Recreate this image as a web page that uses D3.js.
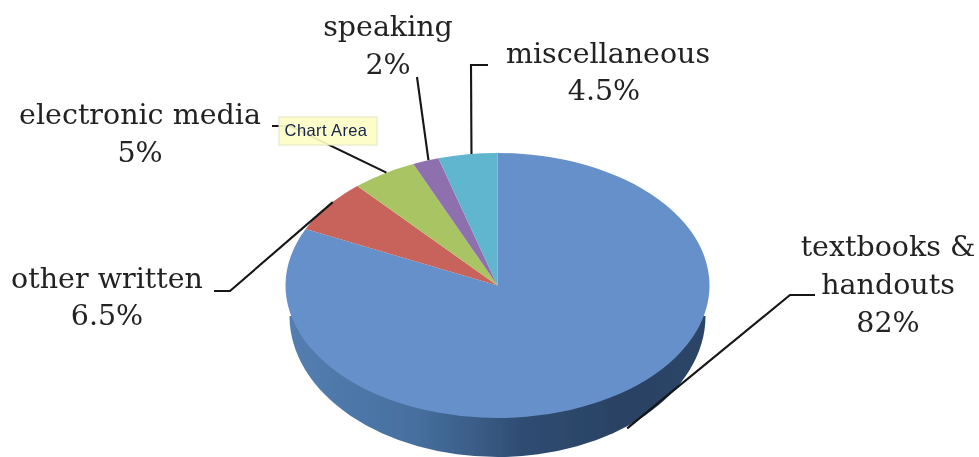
<!DOCTYPE html>
<html>
<head>
<meta charset="utf-8">
<script src="https://cdn.jsdelivr.net/npm/d3@7"></script>
<style>
html,body{margin:0;padding:0;background:#fff;}
svg{display:block;}
</style>
</head>
<body>
<div id="chart"></div>
<script>
const categories = ["textbooks & handouts", "other written", "electronic media", "speaking", "miscellaneous"];
const values = [82, 6.5, 5, 2, 4.5];
const valueLabels = ["82%", "6.5%", "5%", "2%", "4.5%"];
const labelLines = [["textbooks &", "handouts"], ["other written"], ["electronic media"], ["speaking"], ["miscellaneous"]];
const sliceColors = ["#6690c9", "#c8635c", "#a9c462", "#8e70ae", "#60b5cf"];

const W = 979, H = 457;
const top3d = {cx: 497.5, cy: 285.5, rx: 212, ry: 132.5};
const base3d = {cx: 497.5, cy: 316, rx: 208, ry: 141};

// annotation layout, one per category
const labelPos = [
  {x: 888, y: 256, step: 38, vdx: 0},
  {x: 107, y: 288, step: 37, vdx: 0},
  {x: 140, y: 124, step: 38, vdx: 0},
  {x: 388, y: 36, step: 38, vdx: 0},
  {x: 608, y: 63, step: 37, vdx: -4}
];
const leaderLayout = [
  {t: .482, dy: 38, pts: [[790, 295], [815, 295]]},
  {t: .59, dy: 0, pts: [[230, 291], [214, 291]]},
  {t: .545, dy: 0, pts: [[290, 126], [272, 126]]},
  {t: .61, dy: 0, pts: [[417, 77]]},
  {t: .565, dy: 0, pts: [[471, 65], [488, 65]]}
];

const svg = d3.select("#chart").append("svg").attr("width", W).attr("height", H).attr("viewBox", `0 0 ${W} ${H}`);
const defs = svg.append("defs");
defs.append("filter").attr("id", "soft").attr("x", "-5%").attr("y", "-5%").attr("width", "110%").attr("height", "110%")
  .append("feGaussianBlur").attr("stdDeviation", 0.55);
const grad = defs.append("linearGradient").attr("id", "rim").attr("x1", 0).attr("x2", 1).attr("y1", 0).attr("y2", 0);
[[0, "#537eb0"], [.3, "#47709f"], [.45, "#3a5c86"], [.56, "#2f4c72"], [.8, "#2a4263"], [1, "#2c4567"]].forEach(([o, c]) =>
  grad.append("stop").attr("offset", o).attr("stop-color", c));

const root = svg.append("g").attr("filter", "url(#soft)");

// rim: lower half of the base ellipse
root.append("path")
  .attr("transform", `translate(${base3d.cx},${base3d.cy}) scale(1,${base3d.ry / base3d.rx})`)
  .attr("d", d3.arc()({innerRadius: 0, outerRadius: base3d.rx, startAngle: Math.PI / 2, endAngle: Math.PI * 3 / 2}))
  .attr("fill", "url(#rim)");

// top face
const pie = d3.pie().sort(null).value(d => d);
const slices = pie(values);
const arc = d3.arc().innerRadius(0).outerRadius(top3d.rx);
root.append("g")
  .attr("transform", `translate(${top3d.cx},${top3d.cy}) scale(1,${top3d.ry / top3d.rx})`)
  .selectAll("path").data(slices).join("path")
  .attr("d", arc)
  .attr("fill", (d, i) => sliceColors[i]);

// leader lines start on the slice they label
const line = d3.line();
root.append("g").selectAll("path").data(slices).join("path")
  .attr("fill", "none").attr("stroke", "#141414").attr("stroke-width", 2.1)
  .attr("d", (d, i) => {
    const l = leaderLayout[i];
    const a = d.startAngle + (d.endAngle - d.startAngle) * l.t;
    const start = [top3d.cx + top3d.rx * Math.sin(a), top3d.cy - top3d.ry * Math.cos(a) + l.dy];
    return line([start, ...l.pts]);
  });

// labels
const labelG = root.append("g")
  .attr("font-family", "'DejaVu Serif','Liberation Serif',serif")
  .attr("font-size", 28.5).attr("fill", "#222").attr("text-anchor", "middle");
categories.forEach((c, i) => {
  const p = labelPos[i];
  const rows = [...labelLines[i], valueLabels[i]];
  rows.forEach((r, j) => {
    labelG.append("text")
      .attr("x", p.x + (j === rows.length - 1 ? p.vdx : 0))
      .attr("y", p.y + j * p.step)
      .text(r);
  });
});

// tooltip
const tip = root.append("g").attr("transform", "translate(279,117)");
tip.append("rect").attr("width", 98).attr("height", 28).attr("fill", "#fdfdc6").attr("fill-opacity", .92)
  .attr("stroke", "#e6e6c8").attr("stroke-width", 1);
tip.append("text").attr("x", 47).attr("y", 19).attr("text-anchor", "middle")
  .attr("font-family", "'Liberation Sans',Arial,sans-serif").attr("font-size", 16.5).attr("letter-spacing", .4).attr("fill", "#14204a").text("Chart Area");
</script>
</body>
</html>
